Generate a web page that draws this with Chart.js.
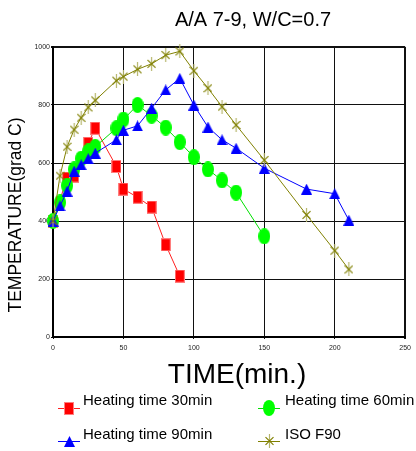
<!DOCTYPE html>
<html>
<head>
<meta charset="utf-8">
<title>A/A 7-9, W/C=0.7</title>
<script src="https://cdn.jsdelivr.net/npm/chart.js@4.4.0/dist/chart.umd.min.js"></script>
<style>
  html, body { margin: 0; padding: 0; background: #fff; }
  #wrap { width: 416px; height: 451px; }
</style>
</head>
<body>
<div id="wrap"><canvas id="tempChart" width="416" height="451"></canvas></div>
<script>
// Temperature curves, one pair of arrays per series (time in min, temperature in grad C)
const chartTitle = 'A/A 7-9, W/C=0.7';
const xTitle = 'TIME(min.)';
const yTitle = 'TEMPERATURE(grad C)';

const xTicks = [0, 50, 100, 150, 200, 250];
const yTicks = [0, 200, 400, 600, 800, 1000];

const time30 = [0, 10, 15, 25, 30, 45, 50, 60, 70, 80, 90];
const temp30 = [400, 548, 555, 668, 720, 588, 510, 482, 448, 318, 210];

const time60 = [0, 5, 10, 15, 20, 25, 30, 45, 50, 60, 70, 80, 90, 100, 110, 120, 130, 150];
const temp60 = [400, 464, 522, 578, 615, 640, 656, 720, 750, 800, 763, 722, 672, 620, 578, 540, 498, 347];

const time90 = [0, 5, 10, 15, 20, 25, 30, 45, 50, 60, 70, 80, 90, 100, 110, 120, 130, 150, 180, 200, 210];
const temp90 = [400, 452, 503, 572, 594, 615, 634, 680, 713, 728, 789, 852, 892, 800, 724, 680, 651, 582, 510, 494, 403];

const timeIso = [0, 5, 10, 15, 20, 25, 30, 45, 50, 60, 70, 80, 90, 100, 110, 120, 130, 150, 180, 200, 210];
const tempIso = [400, 556, 656, 715, 756, 792, 816, 884, 898, 923, 942, 972, 985, 918, 858, 794, 731, 610, 421, 298, 233];

const seriesNames = ['Heating time 30min', 'Heating time 60min', 'Heating time 90min', 'ISO F90'];

function toPoints(xs, ys) {
  return xs.map((x, i) => ({ x: x, y: ys[i] }));
}

// marker images
function makeCanvas(w, h) {
  const c = document.createElement('canvas');
  c.width = w; c.height = h;
  return c;
}

function rectMarker(w, h, color) {
  const c = makeCanvas(w, h);
  const g = c.getContext('2d');
  g.fillStyle = color;
  g.fillRect(0, 0, w, h);
  g.strokeStyle = 'rgba(255,140,140,0.9)';
  g.lineWidth = 1;
  g.strokeRect(0.5, 0.5, w - 1, h - 1);
  return c;
}

function ellipseMarker(w, h, color) {
  const c = makeCanvas(w, h);
  const g = c.getContext('2d');
  g.fillStyle = color;
  g.beginPath();
  g.ellipse(w / 2, h / 2, w / 2, h / 2, 0, 0, Math.PI * 2);
  g.fill();
  return c;
}

function triangleMarker(w, h, color) {
  const c = makeCanvas(w, h);
  const g = c.getContext('2d');
  g.fillStyle = color;
  g.beginPath();
  g.moveTo(w / 2, 0);
  g.lineTo(w, h);
  g.lineTo(0, h);
  g.closePath();
  g.fill();
  return c;
}

function starMarker(w, h, color) {
  const c = makeCanvas(w, h);
  const g = c.getContext('2d');
  g.lineWidth = 1.2;
  g.strokeStyle = '#b5b56a';
  g.beginPath();
  g.moveTo(w / 2, 0);
  g.lineTo(w / 2, h);
  g.stroke();
  g.strokeStyle = color;
  g.beginPath();
  g.moveTo(0.5, h * 0.22);
  g.lineTo(w - 0.5, h * 0.78);
  g.moveTo(w - 0.5, h * 0.22);
  g.lineTo(0.5, h * 0.78);
  g.stroke();
  return c;
}

const markers = [
  rectMarker(10, 13, '#ff0000'),
  ellipseMarker(12, 16, '#00ff00'),
  triangleMarker(11, 11, '#0000ff'),
  starMarker(9, 14, '#808000')
];

const lineColors = ['#ff2020', '#00e000', '#0000ff', '#808000'];

const datasets = [
  { data: toPoints(time30, temp30), order: 4 },
  { data: toPoints(time60, temp60), order: 3 },
  { data: toPoints(time90, temp90), order: 2 },
  { data: toPoints(timeIso, tempIso), order: 1 }
].map((d, i) => Object.assign(d, {
  label: seriesNames[i],
  borderColor: lineColors[i],
  backgroundColor: lineColors[i],
  borderWidth: 1,
  pointStyle: markers[i],
  pointRadius: 6,
  tension: 0,
  clip: false
}));

const FONT = '"Liberation Sans", Arial, sans-serif';

// titles and the two-column legend
const textPlugin = {
  id: 'chartText',
  afterDraw(chart) {
    const ctx = chart.ctx;
    ctx.save();
    ctx.fillStyle = '#000';
    ctx.textBaseline = 'alphabetic';
    ctx.textAlign = 'center';

    ctx.font = '20px ' + FONT;
    ctx.fillText(chartTitle, 253, 26);

    ctx.font = '28px ' + FONT;
    ctx.fillText(xTitle, 237, 383);

    ctx.save();
    ctx.translate(21, 215);
    ctx.rotate(-Math.PI / 2);
    ctx.font = '17.5px ' + FONT;
    ctx.fillText(yTitle, 0, 0);
    ctx.restore();

    const slots = [
      { x: 69, y: 408, tx: 83, ty: 405 },
      { x: 269, y: 408, tx: 285, ty: 405 },
      { x: 69, y: 441, tx: 83, ty: 439 },
      { x: 269, y: 441, tx: 285, ty: 439 }
    ];
    ctx.textAlign = 'left';
    ctx.font = '15px ' + FONT;
    chart.data.datasets.forEach((ds, i) => {
      const s = slots[i];
      ctx.strokeStyle = ds.borderColor;
      ctx.lineWidth = 1;
      ctx.beginPath();
      ctx.moveTo(s.x - 11, s.y + 0.5);
      ctx.lineTo(s.x + 11, s.y + 0.5);
      ctx.stroke();
      const img = ds.pointStyle;
      ctx.drawImage(img, Math.round(s.x - img.width / 2), Math.round(s.y - img.height / 2));
      ctx.fillStyle = '#000';
      ctx.fillText(ds.label, s.tx, s.ty);
    });
    ctx.restore();
  }
};

const edgeWidth = (max) => (ctx) => (ctx.tick && ctx.tick.value === max ? 2 : 1);

new Chart(document.getElementById('tempChart'), {
  type: 'line',
  data: { datasets: datasets },
  plugins: [textPlugin],
  options: {
    responsive: false,
    animation: false,
    devicePixelRatio: 1,
    layout: { padding: { top: 47, right: 8, left: 0, bottom: 0 } },
    plugins: {
      legend: { display: false },
      title: { display: false },
      tooltip: { enabled: false }
    },
    scales: {
      x: {
        type: 'linear',
        min: xTicks[0],
        max: xTicks[xTicks.length - 1],
        afterBuildTicks: (scale) => { scale.ticks = xTicks.map(v => ({ value: v })); },
        afterFit: (scale) => { scale.height = 114; },
        ticks: {
          font: { size: 7, family: FONT },
          color: '#222',
          padding: 5,
          maxRotation: 0,
          callback: (v) => String(v)
        },
        grid: { color: '#111', lineWidth: edgeWidth(250), tickLength: 2 },
        border: { color: '#000', width: 2 }
      },
      y: {
        type: 'linear',
        min: yTicks[0],
        max: yTicks[yTicks.length - 1],
        afterBuildTicks: (scale) => { scale.ticks = yTicks.map(v => ({ value: v })); },
        afterFit: (scale) => { scale.width = 53; },
        ticks: {
          font: { size: 7, family: FONT },
          color: '#222',
          padding: 1,
          callback: (v) => String(v)
        },
        grid: { color: '#111', lineWidth: edgeWidth(1000), tickLength: 2 },
        border: { color: '#000', width: 2 }
      }
    }
  }
});
</script>
</body>
</html>
